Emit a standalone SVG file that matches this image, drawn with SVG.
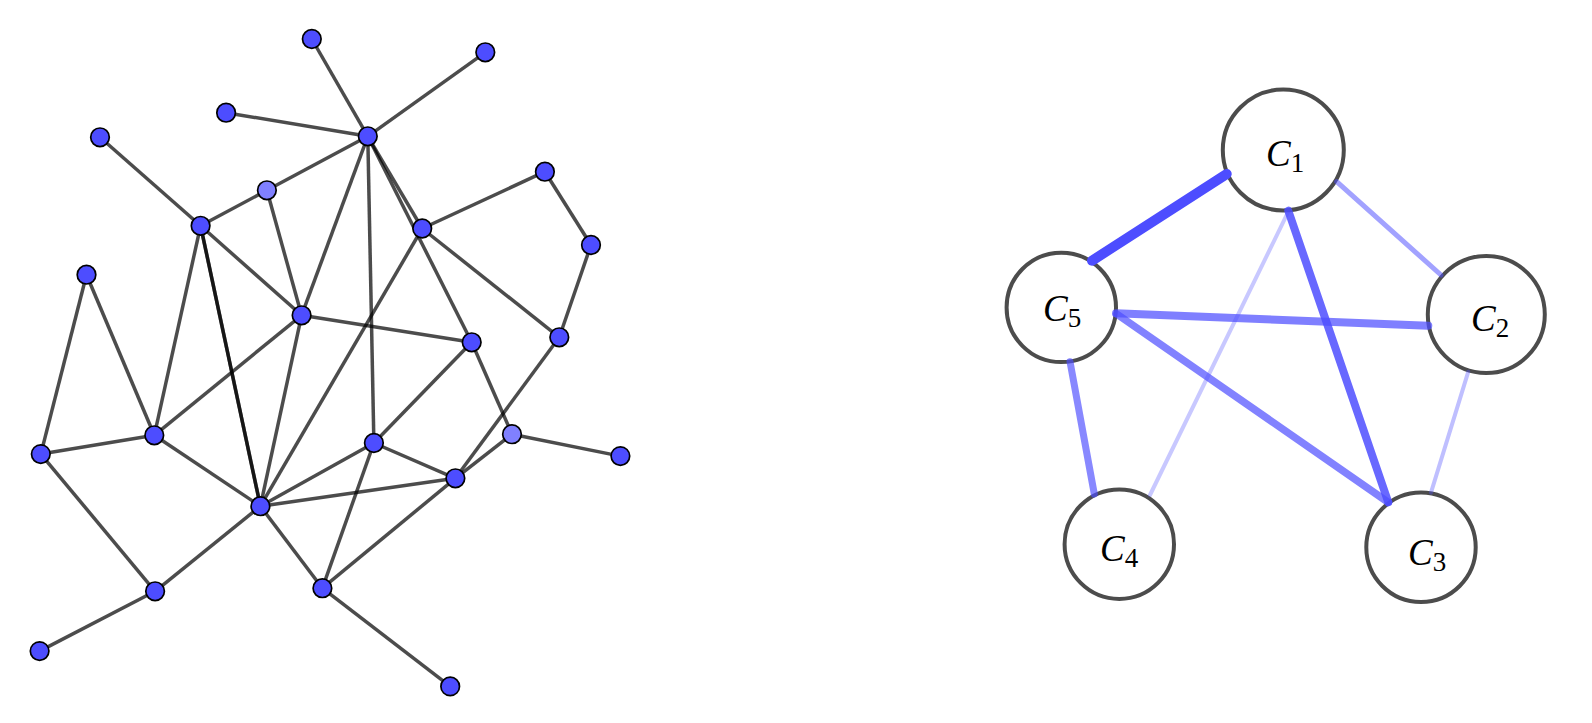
<svg xmlns="http://www.w3.org/2000/svg" width="1592" height="723" viewBox="0 0 1592 723">
<style>
.e{stroke:#000;stroke-opacity:0.7;stroke-width:3.5;fill:none}
.n{fill:#4d4dff;stroke:#000;stroke-width:1.7}
.nl{fill:#8080ff;stroke:#000;stroke-width:1.7}
.c{fill:#fff;stroke:#000;stroke-opacity:0.7;stroke-width:4}
.b{stroke:#4d4dff;stroke-linecap:round;fill:none}
.lab{font-family:"Liberation Serif",serif;font-style:italic;font-size:37px;fill:#000}
.sub{font-style:normal;font-size:27px}
</style>
<rect width="1592" height="723" fill="#fff"/>
<g id="connectors">
<line class="e" x1="311.8" y1="39" x2="367.8" y2="136.3"/>
<line class="e" x1="485.3" y1="52.3" x2="367.8" y2="136.3"/>
<line class="e" x1="226.1" y1="112.7" x2="367.8" y2="136.3"/>
<line class="e" x1="100" y1="137.3" x2="200.6" y2="225.8"/>
<line class="e" x1="367.8" y1="136.3" x2="266.9" y2="190.3"/>
<line class="e" x1="266.9" y1="190.3" x2="200.6" y2="225.8"/>
<line class="e" x1="266.9" y1="190.3" x2="301.6" y2="315.3"/>
<line class="e" x1="367.8" y1="136.3" x2="301.6" y2="315.3"/>
<line class="e" x1="367.8" y1="136.3" x2="373.9" y2="443"/>
<line class="e" x1="367.8" y1="136.3" x2="422.2" y2="228.5"/>
<line class="e" x1="367.8" y1="136.3" x2="471.7" y2="342.3"/>
<line class="e" x1="422.2" y1="228.5" x2="544.9" y2="171.7"/>
<line class="e" x1="544.9" y1="171.7" x2="591" y2="245"/>
<line class="e" x1="591" y1="245" x2="559.3" y2="337.3"/>
<line class="e" x1="422.2" y1="228.5" x2="559.3" y2="337.3"/>
<line class="e" x1="422.2" y1="228.5" x2="260.4" y2="506.2"/>
<line class="e" x1="301.6" y1="315.3" x2="471.7" y2="342.3"/>
<line class="e" x1="471.7" y1="342.3" x2="373.9" y2="443"/>
<line class="e" x1="471.7" y1="342.3" x2="512" y2="434.2"/>
<line class="e" x1="559.3" y1="337.3" x2="455.4" y2="478.3"/>
<line class="e" x1="86.5" y1="274.7" x2="40.8" y2="454.1"/>
<line class="e" x1="86.5" y1="274.7" x2="154.3" y2="435.3"/>
<line class="e" x1="200.6" y1="225.8" x2="154.3" y2="435.3"/>
<line class="e" x1="200.6" y1="225.8" x2="301.6" y2="315.3"/>
<line class="e" x1="200.6" y1="225.8" x2="260.4" y2="506.2"/>
<line class="e" x1="200.6" y1="225.8" x2="260.4" y2="506.2"/>
<line class="e" x1="301.6" y1="315.3" x2="154.3" y2="435.3"/>
<line class="e" x1="301.6" y1="315.3" x2="260.4" y2="506.2"/>
<line class="e" x1="40.8" y1="454.1" x2="154.3" y2="435.3"/>
<line class="e" x1="40.8" y1="454.1" x2="155.1" y2="591.3"/>
<line class="e" x1="154.3" y1="435.3" x2="260.4" y2="506.2"/>
<line class="e" x1="260.4" y1="506.2" x2="373.9" y2="443"/>
<line class="e" x1="260.4" y1="506.2" x2="455.4" y2="478.3"/>
<line class="e" x1="260.4" y1="506.2" x2="322.4" y2="588.2"/>
<line class="e" x1="260.4" y1="506.2" x2="155.1" y2="591.3"/>
<line class="e" x1="373.9" y1="443" x2="455.4" y2="478.3"/>
<line class="e" x1="373.9" y1="443" x2="322.4" y2="588.2"/>
<line class="e" x1="455.4" y1="478.3" x2="322.4" y2="588.2"/>
<line class="e" x1="512" y1="434.2" x2="455.4" y2="478.3"/>
<line class="e" x1="512" y1="434.2" x2="620.4" y2="456.1"/>
<line class="e" x1="155.1" y1="591.3" x2="39.6" y2="651.1"/>
<line class="e" x1="322.4" y1="588.2" x2="450.2" y2="686.4"/>
</g>
<g id="nodes-left">
<circle id="nA" class="n" cx="311.8" cy="39" r="9.3"/>
<circle id="nB" class="n" cx="485.3" cy="52.3" r="9.3"/>
<circle id="nC" class="n" cx="226.1" cy="112.7" r="9.3"/>
<circle id="nD" class="n" cx="367.8" cy="136.3" r="9.3"/>
<circle id="nE" class="n" cx="100" cy="137.3" r="9.3"/>
<circle id="nF" class="nl" cx="266.9" cy="190.3" r="9.3"/>
<circle id="nG" class="n" cx="200.6" cy="225.8" r="9.3"/>
<circle id="nH" class="n" cx="422.2" cy="228.5" r="9.3"/>
<circle id="nI" class="n" cx="544.9" cy="171.7" r="9.3"/>
<circle id="nJ" class="n" cx="591" cy="245" r="9.3"/>
<circle id="nK" class="n" cx="86.5" cy="274.7" r="9.3"/>
<circle id="nL" class="n" cx="301.6" cy="315.3" r="9.3"/>
<circle id="nM" class="n" cx="471.7" cy="342.3" r="9.3"/>
<circle id="nN" class="n" cx="559.3" cy="337.3" r="9.3"/>
<circle id="nO" class="n" cx="40.8" cy="454.1" r="9.3"/>
<circle id="nP" class="n" cx="154.3" cy="435.3" r="9.3"/>
<circle id="nQ" class="n" cx="373.9" cy="443" r="9.3"/>
<circle id="nR" class="nl" cx="512" cy="434.2" r="9.3"/>
<circle id="nS" class="n" cx="620.4" cy="456.1" r="9.3"/>
<circle id="nT" class="n" cx="455.4" cy="478.3" r="9.3"/>
<circle id="nU" class="n" cx="260.4" cy="506.2" r="9.3"/>
<circle id="nV" class="n" cx="155.1" cy="591.3" r="9.3"/>
<circle id="nW" class="n" cx="322.4" cy="588.2" r="9.3"/>
<circle id="nX" class="n" cx="39.6" cy="651.1" r="9.3"/>
<circle id="nY" class="n" cx="450.2" cy="686.4" r="9.3"/>
</g>
<g id="C1"><circle class="c" cx="1283.3" cy="150" r="60.5"/><text class="lab" x="1266" y="166">C<tspan class="sub" dx="0" dy="6">1</tspan></text></g>
<g id="C2"><circle class="c" cx="1486.3" cy="314.5" r="58.5"/><text class="lab" x="1471" y="331">C<tspan class="sub" dx="0" dy="6">2</tspan></text></g>
<g id="C3"><circle class="c" cx="1421" cy="547.3" r="54.7"/><text class="lab" x="1408" y="565">C<tspan class="sub" dx="0" dy="6">3</tspan></text></g>
<g id="C4"><circle class="c" cx="1119.3" cy="544.2" r="54.7"/><text class="lab" x="1100" y="561">C<tspan class="sub" dx="0" dy="6">4</tspan></text></g>
<g id="C5"><circle class="c" cx="1061.3" cy="307.4" r="54.7"/><text class="lab" x="1043" y="321">C<tspan class="sub" dx="0" dy="6">5</tspan></text></g>
<g id="connectors-right">
<line class="b" stroke-width="4" stroke-opacity="0.31" x1="1288.3" y1="211.7" x2="1150" y2="495"/>
<line class="b" stroke-width="4" stroke-opacity="0.36" x1="1468.3" y1="371.7" x2="1431" y2="492.7"/>
<line class="b" stroke-width="5" stroke-opacity="0.52" x1="1336.7" y1="181.7" x2="1441" y2="275"/>
<line class="b" stroke-width="7" stroke-opacity="0.67" x1="1070" y1="361.7" x2="1094.3" y2="494"/>
<line class="b" stroke-width="7.5" stroke-opacity="0.7" x1="1116.7" y1="314" x2="1388.3" y2="502.3"/>
<line class="b" stroke-width="8" stroke-opacity="0.72" x1="1116" y1="313.3" x2="1428.3" y2="325.7"/>
<line class="b" stroke-width="8" stroke-opacity="0.85" x1="1288.3" y1="210.7" x2="1388.3" y2="502.3"/>
<line class="b" stroke-width="10" x1="1226.7" y1="174" x2="1092" y2="260.7"/>
</g>
</svg>
